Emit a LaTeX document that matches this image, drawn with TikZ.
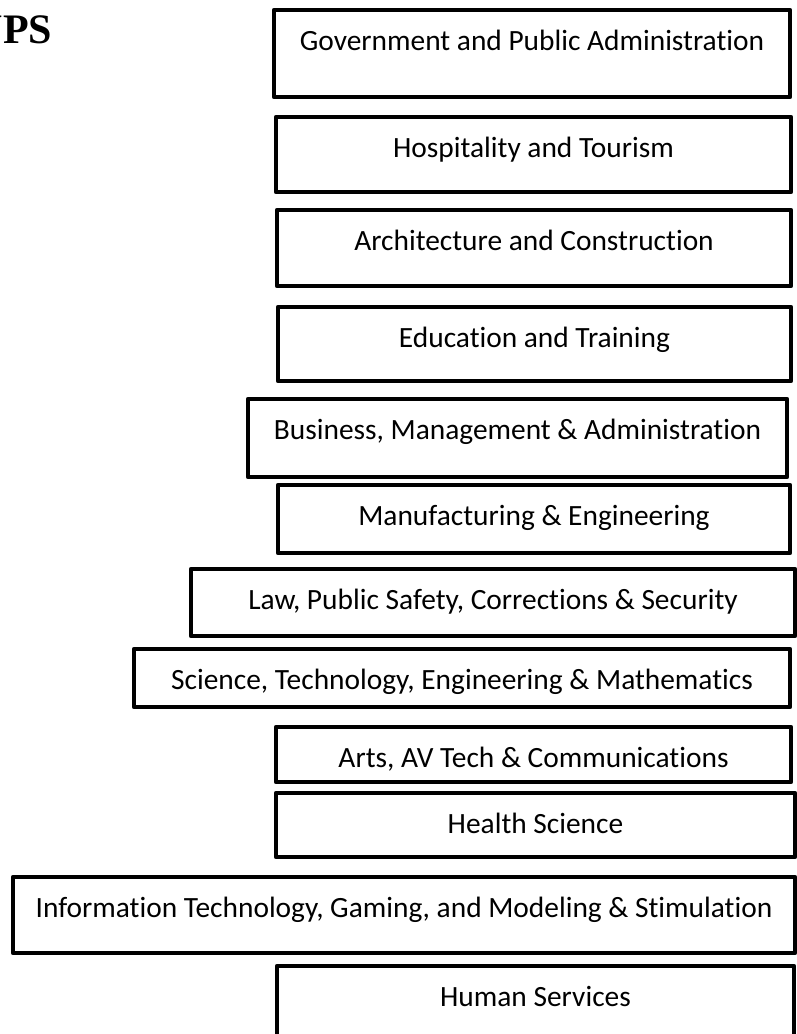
\documentclass[tikz,border=0pt]{standalone}
\usepackage{fontspec}
\setmainfont{Carlito}[Ligatures=NoCommon]
\newfontfamily\titlefont{Liberation Serif}
\tikzset{cbox/.style={draw, line width=4.5pt, anchor=north west, inner sep=0pt, outer sep=0pt, text height=40pt}}
\begin{document}
\begin{tikzpicture}[x=1pt,y=-1pt, font=\fontsize{29.4}{35}\selectfont, line join=round, line cap=round]
			\useasboundingbox (0,0) rectangle (797,1034);
			\node[anchor=base west, inner sep=0pt, font=\titlefont\bfseries\fontsize{42}{50}\selectfont] (title) at (-27.5,43) {UPS};
			\foreach \n/\l/\t/\r/\b/\s in{gov/274/10/790/97/{Government and Public Administration},
				hosp/276/117/791/192/{Hospitality and Tourism},
				arch/277/210/791/286/{Architecture and Construction},
				edu/278/307/791/381/{Education and Training},
				bus/248/399/787/477/{Business, Management \& Administration},
				man/278/485/790/553/{Manufacturing \& Engineering},
				law/191/569/795/636/{Law, Public Safety, Corrections \& Security},
				sci/134/649/790/707/{Science, Technology, Engineering \& Mathematics},
				arts/276/727/791/782/{Arts, AV Tech \& Communications},
				health/276/793/795/857/{Health Science},
				it/13/877/795/953/{Information Technology, Gaming, and Modeling \& Stimulation},
				human/277/966/794/1045/{Human Services}}
				{\node[cbox, minimum width={(\r-\l)*1pt}, text depth={(\b-\t-40)*1pt}] (\n) at (\l,\t) {\s};}
		\end{tikzpicture}
\end{document}
